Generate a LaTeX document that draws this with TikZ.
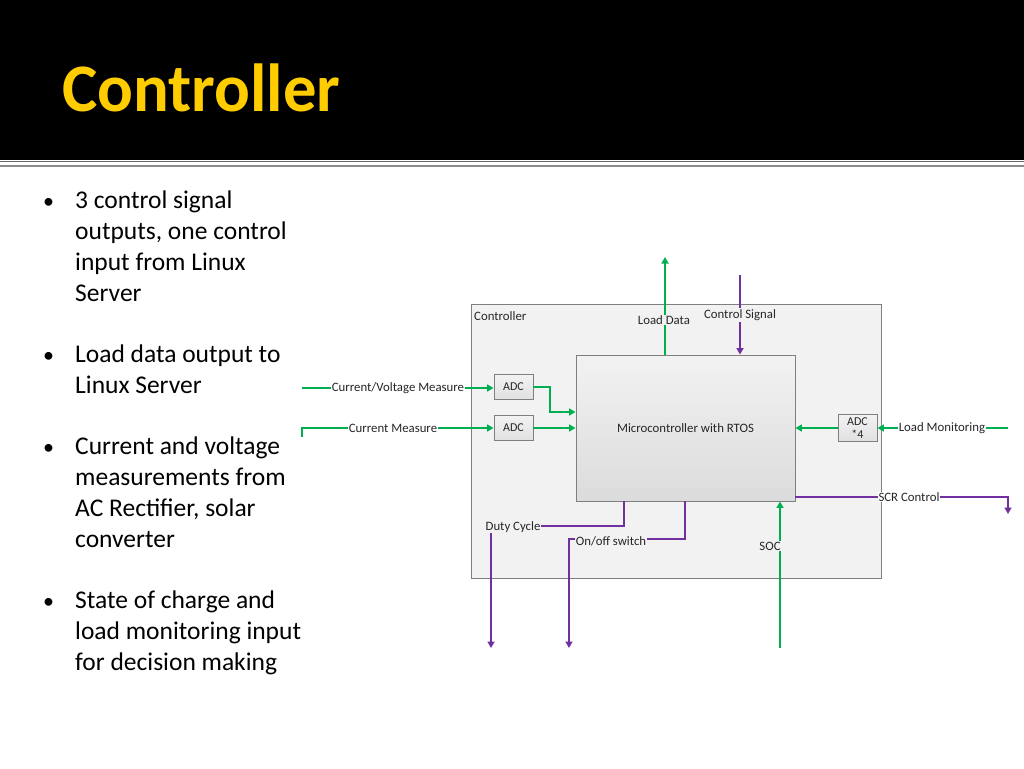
\documentclass[tikz,border=0pt]{standalone}
\usepackage{fontspec}
\setmainfont{Carlito}
\usetikzlibrary{arrows.meta}
\definecolor{gold}{HTML}{FFCC00}
\definecolor{grn}{HTML}{00B050}
\definecolor{pur}{HTML}{7030A0}
\definecolor{boxfill}{HTML}{F2F2F2}
\definecolor{boxline}{HTML}{7F7F7F}
\definecolor{lbltext}{HTML}{262626}
\begin{document}
\begin{tikzpicture}[x=1pt,y=-1pt,
  btext/.style={anchor=base west, inner sep=0pt, font=\fontsize{25.5}{31}\selectfont, text=black},
  bdot/.style={anchor=base west, inner sep=0pt, font=\fontsize{22}{31}\selectfont, text=black},
  lbl/.style={font=\fontsize{12.8}{14}\selectfont, inner sep=1pt, text=lbltext},
  gline/.style={draw=grn, line width=1.8pt},
  pline/.style={draw=pur, line width=1.8pt},
  tip/.style={-{Triangle[length=6.5pt,width=7pt]}},
  adcbox/.style={draw=boxline, line width=0.9pt, top color=boxfill, bottom color=black!12, minimum width=39pt, minimum height=25pt, inner sep=0pt, align=center, font=\fontsize{12}{12.5}\selectfont, text=lbltext}
]
\useasboundingbox (0,0) rectangle (1024,768);
\fill[white] (0,0) rectangle (1024,768);
% header
\fill[black] (0,0) rectangle (1024,160);
\draw[black!60, line width=1pt] (0,161) -- (1024,161);
\draw[black!45, line width=2pt] (0,166) -- (1024,166);
\node[anchor=base west, inner sep=0pt, font=\fontsize{68}{70}\selectfont\bfseries, text=gold, xscale=0.98] (title) at (62,111) {Controller};

% bullets
\node[bdot] (b1) at (43,208) {\textbullet};
\node[btext] (l1) at (75,208) {3 control signal};
\node[btext] (l2) at (75,239) {outputs, one control};
\node[btext] (l3) at (75,270) {input from Linux};
\node[btext] (l4) at (75,301) {Server};
\node[bdot] (b2) at (43,362) {\textbullet};
\node[btext] (l5) at (75,362) {Load data output to};
\node[btext] (l6) at (75,393) {Linux Server};
\node[bdot] (b3) at (43,454) {\textbullet};
\node[btext] (l7) at (75,454) {Current and voltage};
\node[btext] (l8) at (75,485) {measurements from};
\node[btext] (l9) at (75,516) {AC Rectifier, solar};
\node[btext] (l10) at (75,547) {converter};
\node[bdot] (b4) at (43,608) {\textbullet};
\node[btext] (l11) at (75,608) {State of charge and};
\node[btext] (l12) at (75,639) {load monitoring input};
\node[btext] (l13) at (75,670) {for decision making};

% diagram boxes
\node[draw=boxline, line width=0.9pt, fill=boxfill, minimum width=410pt, minimum height=274pt, inner sep=0pt, anchor=north west] (ctrl) at (471,304) {};
\node[lbl, anchor=west, fill=none] (ctrllbl) at (473,316) {Controller};
\node[draw=boxline, line width=0.9pt, top color=boxfill, bottom color=black!14, minimum width=219pt, minimum height=146pt, inner sep=0pt, font=\fontsize{12.8}{14}\selectfont, text=lbltext] (micro) at (685.5,428) {Microcontroller with RTOS};
\node[adcbox] (adc1) at (513.5,387) {ADC};
\node[adcbox] (adc2) at (513.5,428) {ADC};
\node[adcbox, minimum height=27pt] (adc4) at (857.5,428) {ADC\\*4};

% coordinates
\coordinate (cvin) at (302,388);
\coordinate (cmin) at (302,437);
\coordinate (cmcorner) at (302,428);
\coordinate (j1) at (550,412);
\coordinate (ldtop) at (665,257);
\coordinate (cstop) at (740,275);
\coordinate (lmin) at (1008,428);
\coordinate (scrmid) at (900,497);
\coordinate (scrend) at (1008,514);
\coordinate (socin) at (780,648);
\coordinate (dcx) at (624,526);
\coordinate (dcend) at (491,648);
\coordinate (oox) at (685,539);
\coordinate (ooend) at (569,648);

% green connectors
\draw[gline,tip] (cvin) -- (adc1.west |- cvin);
\draw[gline,tip] (cmin) -- (cmcorner) -- (adc2.west);
\draw[gline,tip] (adc1.east) -| (j1) -- (j1 -| micro.west);
\draw[gline,tip] (adc2.east) -- (micro.west);
\draw[gline,tip] (lmin) -- (adc4.east);
\draw[gline,tip] (adc4.west) -- (micro.east);
\draw[gline,tip] (ldtop |- micro.north) -- (ldtop);
\draw[gline,tip] (socin) -- (socin |- micro.south);

% purple connectors
\draw[pline,tip] (scrmid -| micro.east) -- (scrmid) -| (scrend);
\draw[pline,tip] (cstop) -- (cstop |- micro.north);
\draw[pline,tip] (dcx |- micro.south) -- (dcx) -| (dcend);
\draw[pline,tip] (oox |- micro.south) -- (oox) -| (ooend);

% connector labels
\node[lbl, fill=white] (cvl) at (398,388) {Current/Voltage Measure};
\node[lbl, fill=white] (cml) at (393,428) {Current Measure};
\node[lbl, fill=white] (lml) at (942,428) {Load Monitoring};
\node[lbl, fill=white] (scrl) at (909,497) {SCR Control};
\node[lbl, fill=boxfill] (ldl) at (664,320) {Load Data};
\node[lbl, fill=boxfill] (csl) at (740,315) {Control Signal};
\node[lbl, fill=boxfill] (socl) at (770,546) {SOC};
\node[lbl, fill=boxfill] (dcl) at (513,527) {Duty Cycle};
\node[lbl, fill=boxfill] (ool) at (611,541) {On/off switch};
\end{tikzpicture}
\end{document}
